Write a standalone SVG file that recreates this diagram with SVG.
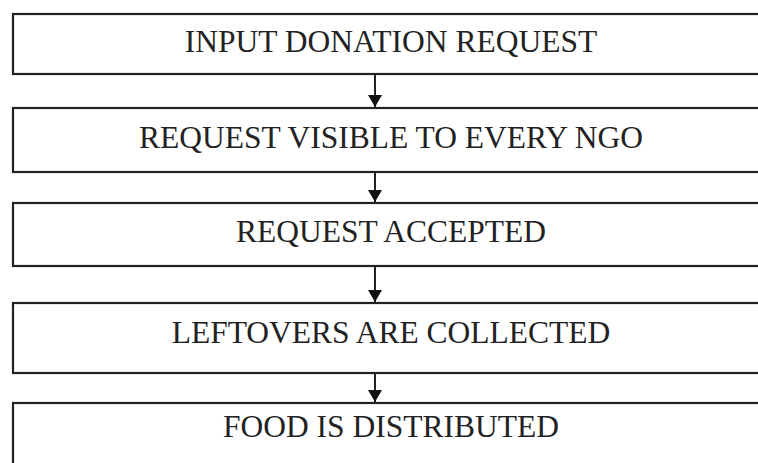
<svg xmlns="http://www.w3.org/2000/svg" width="758" height="463" viewBox="0 0 758 463">
<defs>
<style>
.box{fill:#fff;stroke:#222;stroke-width:2.2}
.lbl{font-family:"Liberation Serif","Times New Roman",serif;font-size:31.5px;fill:#222;text-anchor:middle}
.conn{stroke:#222;stroke-width:2;fill:none}
</style>
<marker id="ah" markerWidth="12" markerHeight="14" refX="12" refY="7" orient="auto" markerUnits="userSpaceOnUse">
<path d="M0,0 L12,7 L0,14 Z" fill="#111"/>
</marker>
</defs>
<rect width="758" height="463" fill="#fff"/>
<g id="n1"><rect class="box" x="13" y="14" width="800" height="60"/><text class="lbl" x="391" y="52">INPUT DONATION REQUEST</text></g>
<g id="n2"><rect class="box" x="13" y="108" width="800" height="64"/><text class="lbl" x="391" y="147.5">REQUEST VISIBLE TO EVERY NGO</text></g>
<g id="n3"><rect class="box" x="13" y="203" width="800" height="63"/><text class="lbl" x="391" y="242">REQUEST ACCEPTED</text></g>
<g id="n4"><rect class="box" x="13" y="303" width="800" height="70"/><text class="lbl" x="391" y="343">LEFTOVERS ARE COLLECTED</text></g>
<g id="n5"><rect class="box" x="13" y="403" width="800" height="80"/><text class="lbl" x="391" y="437">FOOD IS DISTRIBUTED</text></g>
<g id="connectors">
<line class="conn" x1="375" y1="75" x2="375" y2="107" marker-end="url(#ah)"/>
<line class="conn" x1="375" y1="173" x2="375" y2="202" marker-end="url(#ah)"/>
<line class="conn" x1="375" y1="267" x2="375" y2="302" marker-end="url(#ah)"/>
<line class="conn" x1="375" y1="374" x2="375" y2="402" marker-end="url(#ah)"/>
</g>
</svg>
